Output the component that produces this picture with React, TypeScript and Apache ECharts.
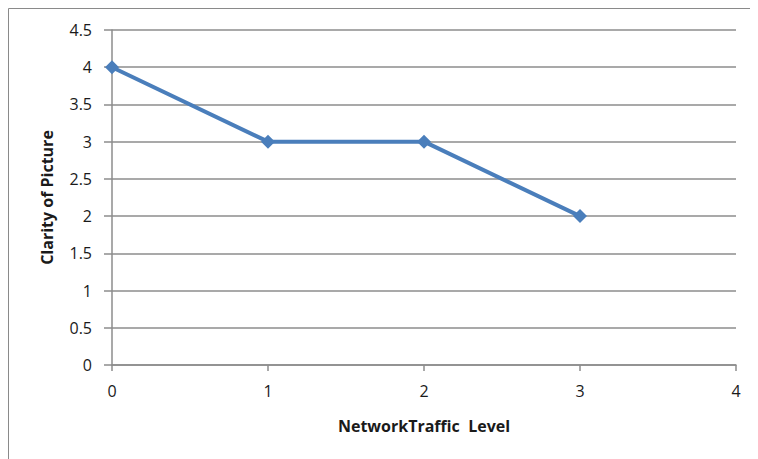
import React, { useEffect, useRef } from "react";
import * as echarts from "echarts";

const trafficLevels: number[] = [0, 1, 2, 3];
const clarityValues: number[] = [4, 3, 3, 2];
const xAxisTitle = "NetworkTraffic  Level";
const yAxisTitle = "Clarity of Picture";

const FONT = "'Open Sans', 'Liberation Sans', sans-serif";
const GRID_GRAY = "#8c8c8c";
const TEXT = "#1a1a1a";

export default function App() {
  const ref = useRef<HTMLDivElement>(null);

  useEffect(() => {
    if (!ref.current) return;
    const chart = echarts.init(ref.current, undefined, { renderer: "svg" });
    chart.setOption({
      animation: false,
      backgroundColor: "#ffffff",
      graphic: [
        {
          type: "rect",
          shape: { x: 0.5, y: 0.5, width: 760, height: 460 },
          style: { fill: "none", stroke: "#8a8a8a", lineWidth: 1 },
          silent: true,
        },
      ],
      grid: { left: 104, right: 22, top: 22, bottom: 94 },
      xAxis: {
        type: "value",
        min: 0,
        max: 4,
        interval: 1,
        name: xAxisTitle,
        nameLocation: "middle",
        nameGap: 53,
        nameTextStyle: { fontFamily: FONT, fontSize: 16, fontWeight: "bold", color: TEXT },
        axisLine: { show: true, lineStyle: { color: GRID_GRAY, width: 1.5 } },
        axisTick: { show: true, length: 6, lineStyle: { color: GRID_GRAY, width: 1.5 } },
        axisLabel: { margin: 18, fontFamily: FONT, fontSize: 16, color: TEXT },
        splitLine: { show: false },
      },
      yAxis: {
        type: "value",
        min: 0,
        max: 4.5,
        interval: 0.5,
        name: yAxisTitle,
        nameLocation: "middle",
        nameGap: 57,
        nameTextStyle: { fontFamily: FONT, fontSize: 16, fontWeight: "bold", color: TEXT },
        axisLine: { show: true, lineStyle: { color: GRID_GRAY, width: 1.5 } },
        axisTick: { show: true, length: 8, lineStyle: { color: GRID_GRAY, width: 1.5 } },
        axisLabel: { margin: 20, fontFamily: FONT, fontSize: 16, color: TEXT },
        splitLine: { show: true, lineStyle: { color: GRID_GRAY, width: 1.5 } },
      },
      series: [
        {
          type: "line",
          data: trafficLevels.map((x, i) => [x, clarityValues[i]]),
          symbol: "diamond",
          symbolSize: 14,
          lineStyle: { color: "#4a7ebb", width: 4 },
          itemStyle: { color: "#4a7ebb" },
        },
      ],
    });
    return () => chart.dispose();
  }, []);

  return <div ref={ref} style={{ width: 750, height: 451 }} />;
}
